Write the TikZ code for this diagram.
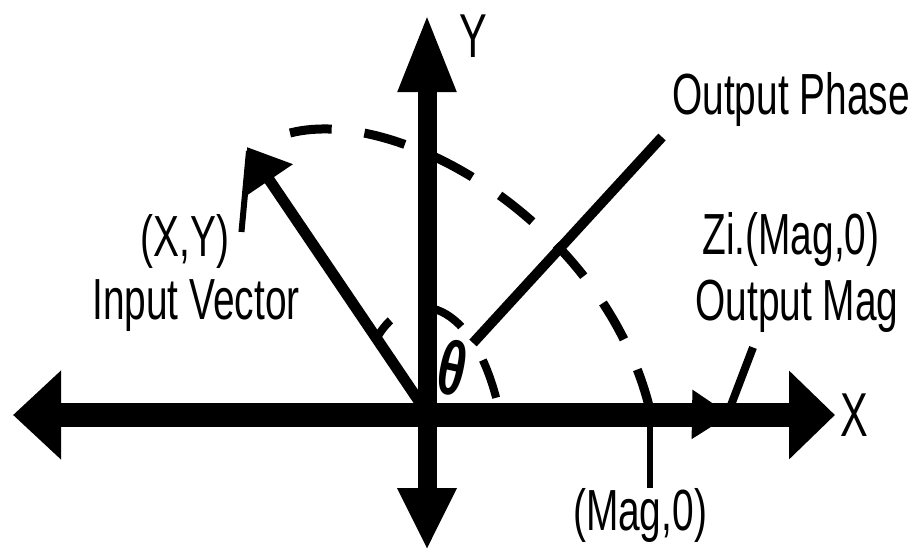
\documentclass[tikz,border=0pt]{standalone}
\usepackage{fontspec}
\setmainfont[FakeStretch=0.67]{Liberation Sans}
\usepackage{tikz}
\usetikzlibrary{arrows.meta,positioning,calc}
\definecolor{inkBlack}{RGB}{0, 0, 0}
\definecolor{paperWhite}{RGB}{255, 255, 255}

\begin{document}
\begin{tikzpicture}[x=1pt, y=-1pt,
        lbl/.style={font=\fontsize{58pt}{60pt}\selectfont, text=inkBlack, inner sep=0pt},
        axislbl/.style={font=\fontsize{62pt}{64pt}\selectfont, text=inkBlack, inner sep=0pt},
        dashline/.style={draw=inkBlack, line width=9pt, dash pattern=on 42pt off 33pt},
        leader/.style={draw=inkBlack, line width=6pt},
        vec/.style={draw=inkBlack, line width=#1}]
    \useasboundingbox[fill=paperWhite] (0,0) rectangle (917,551);

    % points of the figure
    \coordinate (O) at (425,410);
    \coordinate (vtip) at (247,147);
    \coordinate (ptail) at (473,343);
    \coordinate (phead) at (662,137);
    \coordinate (magpt) at (650,410);
    \coordinate (magtip) at (730,415);

    % rotation arcs
    \draw[dashline] (290,133) .. controls (400,105) and (605,225) .. (magpt);
    \draw[draw=inkBlack, line width=8pt, dash pattern=on 20pt off 47pt on 33pt off 40pt on 40pt]
        (378,336) .. controls (405,290) and (470,290) .. (498,405);

    % input vector and output phase
    \draw[vec=11pt, -{Triangle[length=40pt,width=54pt]}] (O) -- (vtip);
    \draw[vec=10pt] (ptail) -- (phead);

    % axes
    \draw[vec=24pt, {Triangle[length=48pt,width=86pt]}-{Triangle[length=46pt,width=86pt]}] (13,415) -- (835,415);
    \draw[vec=19pt, {Triangle[length=62pt,width=55pt]}-{Triangle[length=79pt,width=53pt]}] (427,550) -- (427,13);
    \draw[vec=6pt, -{Triangle[length=38pt,width=48pt]}] (O) -- (magtip);

    % labels
    \node[axislbl] (ylbl) at (473,36) {Y};
    \node[axislbl] (xlbl) at (854,415) {X};
    \node[lbl] (xy) at (185,241) {(X,Y)};
    \node[lbl] (invec) at (196,306) {Input Vector};
    \node[lbl] (phase) at (791,100) {Output Phase};
    \node[lbl] (zimag) at (791,240) {Zi.(Mag,0)};
    \node[lbl] (outmag) at (797,306) {Output Mag};
    \node[lbl, anchor=north] (magz) at (640,488) {(Mag,0)};
    \node[font=\fontsize{76pt}{78pt}\selectfont\bfseries, inner sep=0pt, rotate=-12] (theta) at (453,368) {θ};

    % leaders
    \draw[leader] ([xshift=12pt,yshift=9pt]xy.east) -- ([xshift=2pt,yshift=-4pt]vtip);
    \draw[leader, line width=8pt] ([xshift=-44pt,yshift=-15pt]outmag.south) -- ([xshift=-2pt,yshift=2pt]magtip);
    \draw[leader] (magpt) -- (magpt |- magz.north);
\end{tikzpicture}
\end{document}
